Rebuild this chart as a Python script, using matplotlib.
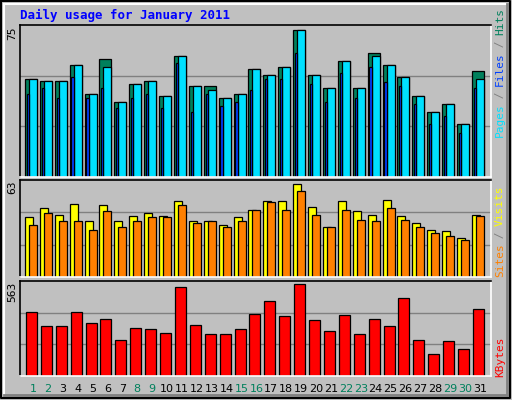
import numpy as np
import matplotlib
matplotlib.use("Agg")
import matplotlib.pyplot as plt

days = list(range(1, 32))
weekend = {1, 2, 8, 9, 15, 16, 22, 23, 29, 30}

hits = [50.1, 48.7, 48.7, 57.2, 42.4, 60.2, 38.3, 47.5, 48.7, 41.4, 61.3, 46.5, 46.5, 40.4, 42.4, 55.1,
        52.1, 56.2, 75, 52.1, 45.5, 59.2, 45.5, 63.3, 57.2, 51.1, 41.4, 33.3, 37.3, 27.1, 54.1]
files = [50.1, 48.7, 48.7, 57.2, 42.4, 56.2, 38.3, 47.5, 48.7, 41.4, 61.3, 46.5, 44.5, 40.4, 42.4, 55.1,
         52.1, 56.2, 75, 52.1, 45.5, 59.2, 45.5, 61.3, 57.2, 51.1, 41.4, 33.3, 37.3, 27.1, 50.1]
pages = [42.4, 45.5, 40.4, 51.1, 40.4, 45.5, 35.3, 40.4, 42.4, 35.3, 58.2, 33.3, 42.4, 36.3, 38.3, 44.5,
         50.1, 50.1, 63.3, 47.5, 38.3, 53.1, 40.4, 56.2, 48.5, 46.5, 37.3, 27.1, 31.2, 22.6, 45.5]
visits = [40.5, 46.6, 42.5, 49.4, 38.4, 48.7, 37.8, 41.2, 43.2, 41.2, 51.4, 38.4, 38.4, 35.7, 40.5, 45.3,
          51.4, 51.4, 63, 47.3, 34.3, 51.4, 44.6, 42.5, 52.1, 41.2, 36.4, 32.3, 31.6, 26.2, 42.5]
sites = [35.7, 43.2, 38.4, 38.4, 32.3, 44.6, 33.7, 38.4, 40.5, 40.5, 48.7, 36.4, 38.4, 33.7, 38.4, 45.3,
         50.7, 45.3, 58.2, 42.5, 33.7, 45.3, 39.1, 37.8, 46.6, 39.1, 34.3, 30.2, 28.2, 25.5, 41.2]
kbytes = [390, 304, 304, 390, 323, 353, 224, 292, 286, 267, 545, 316, 255, 261, 286, 378,
          458, 366, 563, 341, 279, 372, 255, 347, 310, 477, 224, 138, 212, 168, 409]

W, H = 512, 400
fig = plt.figure(figsize=(W / 100, H / 100), dpi=100, facecolor="#C0C0C0")
mono = "DejaVu Sans Mono"
x = np.array(days)


def make_ax(top, bottom, vmax, frac):
    ax = fig.add_axes([20 / W, 1 - bottom / H, 471 / W, (bottom - top) / H])
    ax.set_facecolor("#C0C0C0")
    ax.set_xlim(0.13, 31.74)
    ax.set_ylim(0, vmax / frac)
    for g in (1 / 3, 2 / 3):
        ax.axhline(vmax / frac * g, color="#808080", lw=1, zorder=0)
    ax.set_xticks([])
    ax.set_yticks([])
    for s in ("left", "top"):
        ax.spines[s].set_color("black")
    for s in ("right", "bottom"):
        ax.spines[s].set_color("white")
    for s in ax.spines.values():
        s.set_linewidth(1.2)
    return ax


ek = dict(edgecolor="black", linewidth=0.9, align="edge")

# top: hits/files/pages
ax1 = make_ax(25, 177, 75, 0.97)
ax1.bar(x - 0.54, hits, 0.81, color="#00805C", **ek)
ax1.bar(x - 0.27, files, 0.54, color="#00E0FF", **ek)
ax1.bar(x - 0.42, pages, 0.15, color="#0040FF", **ek)
fig.text(12 / W, 1 - 33 / H, "75", rotation=90, fontsize=8, family=mono, ha="center", va="center")

# middle: visits/sites
ax2 = make_ax(180, 277, 63, 0.955)
ax2.bar(x - 0.54, visits, 0.54, color="#FFFF00", **ek)
ax2.bar(x - 0.27, sites, 0.54, color="#FF8000", **ek)
fig.text(12 / W, 1 - 187 / H, "63", rotation=90, fontsize=8, family=mono, ha="center", va="center")

# bottom: kbytes
ax3 = make_ax(281, 376, 563, 0.965)
ax3.bar(x - 0.47, kbytes, 0.74, color="#FF0000", **ek)
fig.text(12 / W, 1 - 292 / H, "563", rotation=90, fontsize=8, family=mono, ha="center", va="center")

# day labels
for d in days:
    xp = ax3.transData.transform((d, 0))[0] / fig.dpi / (W / 100)
    fig.text(xp, 1 - 389 / H, str(d), ha="center", va="center", fontsize=8,
             color="#00805C" if d in weekend else "black")

fig.text(20 / W, 1 - 15 / H, "Daily usage for January 2011", color="#0000FF",
         fontsize=9, family=mono, fontweight="bold", va="center")


def side_label(parts, y_bottom):
    y = y_bottom
    for txt, col in parts:
        fig.text(500 / W, 1 - y / H, txt, rotation=90, color=col, fontsize=8,
                 family=mono, ha="center", va="bottom")
        y -= len(txt) * 6.4


side_label([("Pages", "#00E0FF"), (" / ", "#808080"), ("Files", "#0040FF"), (" / ", "#808080"), ("Hits", "#00805C")], 137)
side_label([("Sites", "#FF8000"), (" / ", "#808080"), ("Visits", "#FFFF00")], 277)
side_label([("KBytes", "#FF0000")], 377)

# outer 3D border
border = fig.add_axes([0, 0, 1, 1], facecolor="none")
border.set_xlim(0, W)
border.set_ylim(H, 0)
border.axis("off")
border.plot([1, W - 2, W - 2, 1, 1], [1, 1, H - 2, H - 2, 1], color="black", lw=1.5)
border.plot([4, W - 5], [4, 4], color="white", lw=1.5)
border.plot([4, 4], [4, H - 5], color="white", lw=1.5)
border.plot([W - 5, W - 5], [4, H - 5], color="#808080", lw=2)
border.plot([4, W - 5], [H - 5, H - 5], color="#808080", lw=2)

fig.savefig("out.png", dpi=100, facecolor=fig.get_facecolor())
